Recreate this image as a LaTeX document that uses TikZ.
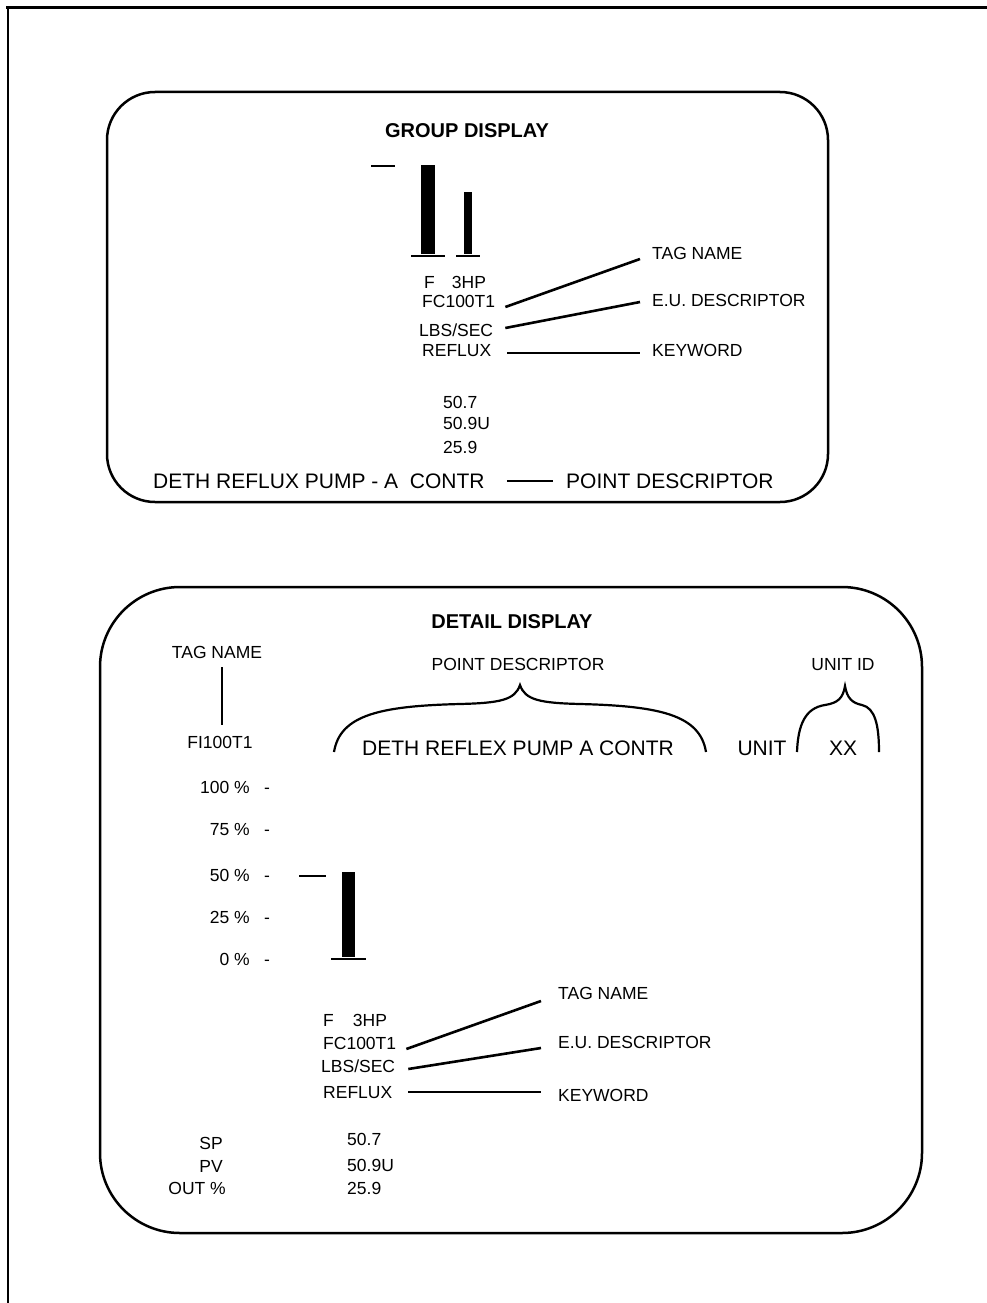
\documentclass[tikz,border=0pt]{standalone}
\usepackage{fontspec}
\setmainfont{Liberation Sans}
\newcommand{\pvbar}[5]{\fill (#1,#2) rectangle (#3,#4);
	\draw[line width=2.2pt] (#1-#5,#4+2) -- (#3+#5,#4+2)}

\begin{document}
\begin{tikzpicture}[x=1pt,y=-1pt,
	lbl/.style={font=\fontsize{17.5}{20}\selectfont,inner sep=0pt,text height=12.5pt,text depth=0pt},
	big/.style={font=\fontsize{21}{24}\selectfont,inner sep=0pt,text height=15pt,text depth=0pt},
	ttl/.style={font=\bfseries\fontsize{20}{24}\selectfont,inner sep=0pt,text height=14.4pt,text depth=0pt},
	lead/.style={line width=2.6pt}]
	\useasboundingbox (0,0) rectangle (987,1303);
	\draw[line width=3pt] (6,8) -- (987,8);
	\draw[line width=2pt] (7.5,8) -- (7.5,1303);
		\draw[line width=2.5pt,rounded corners=48] (107,92) rectangle (828,502);
		\draw[line width=2.5pt,rounded corners=80] (100,587) rectangle (922,1233);
	\node[ttl] (grpTitle) at (467,130) {GROUP DISPLAY};
		\draw[line width=2pt] (371,166) -- (395,166);
		\pvbar{421}{165}{435}{254}{10};
		\pvbar{464}{192}{472}{254}{8};
	\node[lbl,anchor=west] (hpA) at (424,282) {F\hspace{17pt}3HP};
	\node[lbl,anchor=west] (fcA) at (422,301) {FC100T1};
	\node[lbl,anchor=west] (euA) at (419,330) {LBS/SEC};
	\node[lbl,anchor=west] (kwA) at (422,350) {REFLUX};
	\node[lbl,anchor=west] (tagA) at (652,253) {TAG NAME};
	\node[lbl,anchor=west] (eudA) at (652,300) {E.U. DESCRIPTOR};
	\node[lbl,anchor=west] (keyA) at (652,350) {KEYWORD};
		\draw[lead] ([shift={(10,6)}]fcA.east) -- ([shift={(-12,6)}]tagA.west);
		\draw[lead] ([shift={(12,-2)}]euA.east) -- ([shift={(-12,2)}]eudA.west);
		\draw[lead] ([shift={(16,3)}]kwA.east) -- ([shift={(-12,3)}]keyA.west);
	\node[lbl,anchor=west] (spA) at (443,402) {50.7};
	\node[lbl,anchor=west] (pvA) at (443,423) {50.9U};
	\node[lbl,anchor=west] (opA) at (443,447) {25.9};
	\node[big,anchor=west] (descA) at (153,481) {DETH REFLUX PUMP - A\ \ CONTR};
	\node[big,anchor=west] (pdA) at (566,481) {POINT DESCRIPTOR};
		\draw[line width=2pt] ([shift={(22,0)}]descA.east) -- ([shift={(-13,0)}]pdA.west);
	\node[ttl] (detTitle) at (512,621) {DETAIL DISPLAY};
	\node[lbl] (tagB) at (217,652) {TAG NAME};
	\node[lbl] (fiB) at (220,742) {FI100T1};
		\draw[lead] ([shift={(5,9)}]tagB.south) -- ([shift={(5,-11)}]tagB.south |- fiB.north);
	\node[lbl] (pdB) at (518,664) {POINT DESCRIPTOR};
	\node[big] (descB) at (518,748) {DETH REFLEX PUMP A CONTR};
	\node[big] (unitB) at (762,748) {UNIT};
	\node[big] (xxB) at (843,748) {XX};
	\node[lbl] (uidB) at (843,664) {UNIT ID};
		\draw[line width=2.2pt] (334,752) .. controls (340,715) and (380,706) .. (460,704)
			.. controls (500,703) and (515,700) .. (520,685)
			.. controls (525,700) and (540,703) .. (580,704)
			.. controls (660,706) and (700,715) .. (706,752);
		\draw[line width=2.2pt] (797,752) .. controls (798,725) and (805,708) .. (825,705)
			.. controls (838,703) and (843,698) .. (845,686)
			.. controls (847,698) and (852,703) .. (862,705)
			.. controls (875,708) and (879,725) .. (879,752);
	\foreach \p/\y in {100/787,75/829,50/875,25/917,0/959}{
		\node[lbl,anchor=east] (pct\p) at (250,\y) {\p\ \%};
		\node[lbl] (tick\p) at (267,\y) {-};
	}
		\draw[lead] (299,876) -- (326,876);
		\pvbar{342}{872}{355}{957}{11};
	\node[lbl,anchor=west] (hpB) at (323,1020) {F\hspace{19pt}3HP};
	\node[lbl,anchor=west] (fcB) at (323,1043) {FC100T1};
	\node[lbl,anchor=west] (euB) at (321,1066) {LBS/SEC};
	\node[lbl,anchor=west] (kwB) at (323,1092) {REFLUX};
	\node[lbl,anchor=west] (tagC) at (558,993) {TAG NAME};
	\node[lbl,anchor=west] (eudC) at (558,1042) {E.U. DESCRIPTOR};
	\node[lbl,anchor=west] (keyC) at (558,1095) {KEYWORD};
		\draw[lead] ([shift={(10,6)}]fcB.east) -- ([shift={(-17,8)}]tagC.west);
		\draw[lead] ([shift={(13,3)}]euB.east) -- ([shift={(-17,6)}]eudC.west);
		\draw[lead] ([shift={(16,0)}]kwB.east) -- ([shift={(-17,-3)}]keyC.west);
	\node[lbl,anchor=east] (spB) at (223,1143) {SP};
	\node[lbl,anchor=east] (pvB) at (223,1166) {PV};
	\node[lbl,anchor=east] (opB) at (226,1188) {OUT \%};
	\node[lbl,anchor=west] (spvB) at (347,1139) {50.7};
	\node[lbl,anchor=west] (pvvB) at (347,1165) {50.9U};
	\node[lbl,anchor=west] (opvB) at (347,1188) {25.9};
\end{tikzpicture}
\end{document}
